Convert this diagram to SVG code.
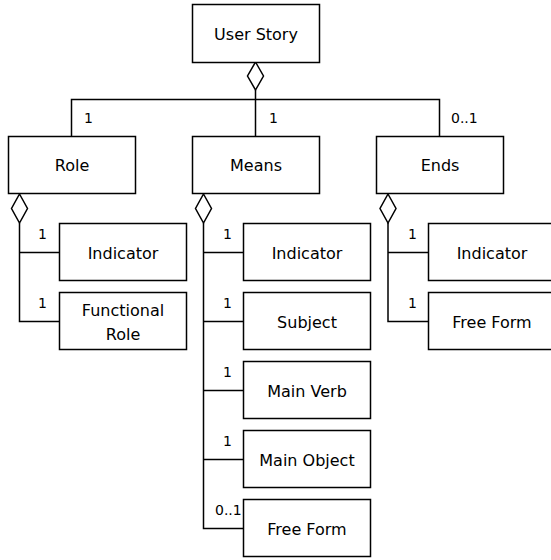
<svg xmlns="http://www.w3.org/2000/svg" width="551" height="560" viewBox="0 0 551 560">
<style>
.box{fill:#fff;stroke:#000;stroke-width:1.5}
.t{font-family:"DejaVu Sans",sans-serif;font-size:16px;text-anchor:middle;fill:#000}
.m{font-family:"DejaVu Sans",sans-serif;font-size:14px;fill:#000}
.ln{fill:none;stroke:#000;stroke-width:1.5}
.dia{fill:#fff;stroke:#000;stroke-width:1.5}
</style>
<rect width="551" height="560" fill="#fff"/>
<g id="connectors">
<path class="ln" d="M255.5 90V136M71.5 136V99.5H439.5V136"/>
<path class="dia" d="M255.5 62L263.5 76L255.5 90L247.5 76Z"/>
<path class="ln" d="M19.5 223V321.5H59M19.5 252.5H59"/>
<path class="dia" d="M19.5 194L27.5 208.5L19.5 223L11.5 208.5Z"/>
<path class="ln" d="M203.5 223V528.5H243M203.5 252.5H243M203.5 321.5H243M203.5 390.5H243M203.5 459.5H243"/>
<path class="dia" d="M203.5 194L211.5 208.5L203.5 223L195.5 208.5Z"/>
<path class="ln" d="M388 223V321.5H428M388 252.5H428"/>
<path class="dia" d="M388 194L396 208.5L388 223L380 208.5Z"/>
<text class="m" x="84" y="123">1</text>
<text class="m" x="269" y="123">1</text>
<text class="m" x="451" y="123">0..1</text>
<text class="m" x="38" y="239">1</text>
<text class="m" x="38" y="308">1</text>
<text class="m" x="223" y="239">1</text>
<text class="m" x="223" y="308">1</text>
<text class="m" x="223" y="377">1</text>
<text class="m" x="223" y="446">1</text>
<text class="m" x="215" y="515">0..1</text>
<text class="m" x="408" y="239">1</text>
<text class="m" x="408" y="308">1</text>
</g>
<g id="userstory"><rect class="box" x="192.5" y="4.5" width="127" height="58"/><text class="t" x="256" y="39.5">User Story</text></g>
<g id="role"><rect class="box" x="8.5" y="136.5" width="127" height="57"/><text class="t" x="72" y="171">Role</text></g>
<g id="means"><rect class="box" x="192.5" y="136.5" width="127" height="57"/><text class="t" x="256" y="171">Means</text></g>
<g id="ends"><rect class="box" x="376.5" y="136.5" width="127" height="57"/><text class="t" x="440" y="171">Ends</text></g>
<g id="role-indicator"><rect class="box" x="59.5" y="223.5" width="127" height="57"/><text class="t" x="123" y="258.5">Indicator</text></g>
<g id="role-functional"><rect class="box" x="59.5" y="292.5" width="127" height="57"/><text class="t" x="123" y="315.5">Functional</text><text class="t" x="123" y="340">Role</text></g>
<g id="means-indicator"><rect class="box" x="243.5" y="223.5" width="127" height="57"/><text class="t" x="307" y="258.5">Indicator</text></g>
<g id="means-subject"><rect class="box" x="243.5" y="292.5" width="127" height="57"/><text class="t" x="307" y="327.5">Subject</text></g>
<g id="means-mainverb"><rect class="box" x="243.5" y="361.5" width="127" height="57"/><text class="t" x="307" y="396.5">Main Verb</text></g>
<g id="means-mainobject"><rect class="box" x="243.5" y="430.5" width="127" height="57"/><text class="t" x="307" y="465.5">Main Object</text></g>
<g id="means-freeform"><rect class="box" x="243.5" y="499.5" width="127" height="57"/><text class="t" x="307" y="534.5">Free Form</text></g>
<g id="ends-indicator"><rect class="box" x="428.5" y="223.5" width="127" height="57"/><text class="t" x="492" y="258.5">Indicator</text></g>
<g id="ends-freeform"><rect class="box" x="428.5" y="292.5" width="127" height="57"/><text class="t" x="492" y="327.5">Free Form</text></g>
</svg>
